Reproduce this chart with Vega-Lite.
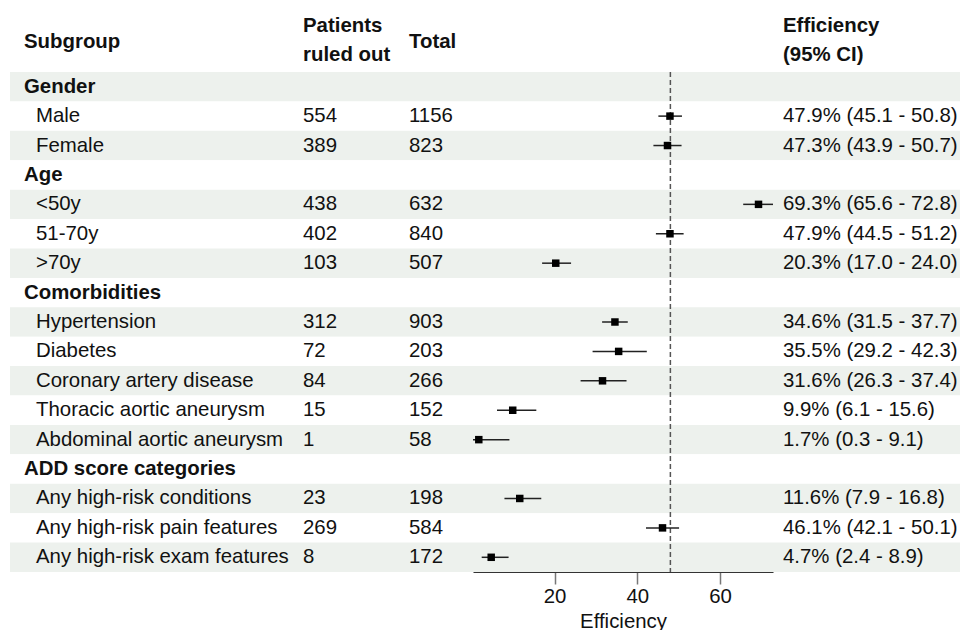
{
  "$schema": "https://vega.github.io/schema/vega-lite/v6.json",
  "padding": {"left": 10, "top": 15, "right": 0, "bottom": 0},
  "autosize": {"type": "pad"},
  "spacing": 0,
  "bounds": "flush",
  "config": {
    "view": {"stroke": null},
    "font": "Liberation Sans",
    "text": {"fontSize": 20.4, "font": "Liberation Sans", "color": "#111111", "align": "left", "baseline": "middle"},
    "title": {"fontSize": 20.4, "font": "Liberation Sans", "fontWeight": "bold", "color": "#111111", "anchor": "start", "lineHeight": 29}
  },
  "data": {
    "values": [
      {"label": "Gender", "header": true},
      {"label": "Male", "header": false, "n": 554, "total": 1156, "est": 47.9, "lo": 45.1, "hi": 50.8},
      {"label": "Female", "header": false, "n": 389, "total": 823, "est": 47.3, "lo": 43.9, "hi": 50.7},
      {"label": "Age", "header": true},
      {"label": "<50y", "header": false, "n": 438, "total": 632, "est": 69.3, "lo": 65.6, "hi": 72.8},
      {"label": "51-70y", "header": false, "n": 402, "total": 840, "est": 47.9, "lo": 44.5, "hi": 51.2},
      {"label": ">70y", "header": false, "n": 103, "total": 507, "est": 20.3, "lo": 17.0, "hi": 24.0},
      {"label": "Comorbidities", "header": true},
      {"label": "Hypertension", "header": false, "n": 312, "total": 903, "est": 34.6, "lo": 31.5, "hi": 37.7},
      {"label": "Diabetes", "header": false, "n": 72, "total": 203, "est": 35.5, "lo": 29.2, "hi": 42.3},
      {"label": "Coronary artery disease", "header": false, "n": 84, "total": 266, "est": 31.6, "lo": 26.3, "hi": 37.4},
      {"label": "Thoracic aortic aneurysm", "header": false, "n": 15, "total": 152, "est": 9.9, "lo": 6.1, "hi": 15.6},
      {"label": "Abdominal aortic aneurysm", "header": false, "n": 1, "total": 58, "est": 1.7, "lo": 0.3, "hi": 9.1},
      {"label": "ADD score categories", "header": true},
      {"label": "Any high-risk conditions", "header": false, "n": 23, "total": 198, "est": 11.6, "lo": 7.9, "hi": 16.8},
      {"label": "Any high-risk pain features", "header": false, "n": 269, "total": 584, "est": 46.1, "lo": 42.1, "hi": 50.1},
      {"label": "Any high-risk exam features", "header": false, "n": 8, "total": 172, "est": 4.7, "lo": 2.4, "hi": 8.9}
    ]
  },
  "transform": [
    {"window": [{"op": "row_number", "as": "rn"}]},
    {"calculate": "datum.header ? '' : format(datum.est, '.1f') + '% (' + format(datum.lo, '.1f') + ' - ' + format(datum.hi, '.1f') + ')'", "as": "ci"}
  ],
  "hconcat": [
    {
      "width": 289, "height": 500,
      "title": {"text": "Subgroup", "dx": 14, "offset": 20},
      "layer": [
        {
          "mark": {"type": "rect"},
          "encoding": {
            "y": {"field": "rn", "type": "ordinal", "axis": null, "scale": {"type": "band", "paddingInner": 0, "paddingOuter": 0}},
            "x": {"value": 0}, "x2": {"value": "width"},
            "fill": {"condition": {"test": "datum.rn % 2 == 1", "value": "#edf1ed"}, "value": "#ffffff"}
          }
        },
        {
          "transform": [{"filter": "datum.header"}],
          "mark": {"type": "text", "dx": 14, "fontWeight": "bold"},
          "encoding": {
            "y": {"field": "rn", "type": "ordinal", "axis": null, "scale": {"type": "band", "paddingInner": 0, "paddingOuter": 0}},
            "x": {"value": 0},
            "text": {"field": "label"}
          }
        },
        {
          "transform": [{"filter": "!datum.header"}],
          "mark": {"type": "text", "dx": 26},
          "encoding": {
            "y": {"field": "rn", "type": "ordinal", "axis": null, "scale": {"type": "band", "paddingInner": 0, "paddingOuter": 0}},
            "x": {"value": 0},
            "text": {"field": "label"}
          }
        }
      ]
    },
    {
      "width": 106, "height": 500,
      "title": {"text": ["Patients", "ruled out"], "dx": 4, "offset": 7},
      "layer": [
        {
          "mark": {"type": "rect"},
          "encoding": {
            "y": {"field": "rn", "type": "ordinal", "axis": null, "scale": {"type": "band", "paddingInner": 0, "paddingOuter": 0}},
            "x": {"value": 0}, "x2": {"value": "width"},
            "fill": {"condition": {"test": "datum.rn % 2 == 1", "value": "#edf1ed"}, "value": "#ffffff"}
          }
        },
        {
          "transform": [{"filter": "!datum.header"}],
          "mark": {"type": "text", "dx": 4},
          "encoding": {
            "y": {"field": "rn", "type": "ordinal", "axis": null, "scale": {"type": "band", "paddingInner": 0, "paddingOuter": 0}},
            "x": {"value": 0},
            "text": {"field": "n", "type": "quantitative", "format": "d"}
          }
        }
      ]
    },
    {
      "width": 68, "height": 500,
      "title": {"text": "Total", "dx": 4, "offset": 20},
      "layer": [
        {
          "mark": {"type": "rect"},
          "encoding": {
            "y": {"field": "rn", "type": "ordinal", "axis": null, "scale": {"type": "band", "paddingInner": 0, "paddingOuter": 0}},
            "x": {"value": 0}, "x2": {"value": "width"},
            "fill": {"condition": {"test": "datum.rn % 2 == 1", "value": "#edf1ed"}, "value": "#ffffff"}
          }
        },
        {
          "transform": [{"filter": "!datum.header"}],
          "mark": {"type": "text", "dx": 4},
          "encoding": {
            "y": {"field": "rn", "type": "ordinal", "axis": null, "scale": {"type": "band", "paddingInner": 0, "paddingOuter": 0}},
            "x": {"value": 0},
            "text": {"field": "total", "type": "quantitative", "format": "d"}
          }
        }
      ]
    },
    {
      "width": 300, "height": 500,
      "layer": [
        {
          "mark": {"type": "rect"},
          "encoding": {
            "y": {"field": "rn", "type": "ordinal", "axis": null, "scale": {"type": "band", "paddingInner": 0, "paddingOuter": 0}},
            "x": {"value": 0}, "x2": {"value": "width"},
            "fill": {"condition": {"test": "datum.rn % 2 == 1", "value": "#edf1ed"}, "value": "#ffffff"}
          }
        },
        {
          "transform": [{"filter": "datum.rn == 1"}],
          "mark": {"type": "rule", "color": "#555555", "strokeWidth": 1.5, "strokeDash": [5, 3]},
          "encoding": {
            "x": {"datum": 48, "type": "quantitative", "scale": {"domain": [0.3, 72.8], "nice": false, "zero": false}}
          }
        },
        {
          "transform": [{"filter": "!datum.header"}],
          "mark": {"type": "rule", "color": "#222222", "strokeWidth": 1.5},
          "encoding": {
            "y": {"field": "rn", "type": "ordinal", "axis": null, "scale": {"type": "band", "paddingInner": 0, "paddingOuter": 0}},
            "x": {"field": "lo", "type": "quantitative"},
            "x2": {"field": "hi"}
          }
        },
        {
          "transform": [{"filter": "!datum.header"}],
          "mark": {"type": "point", "shape": "square", "filled": true, "size": 56, "color": "#000000", "opacity": 1},
          "encoding": {
            "y": {"field": "rn", "type": "ordinal", "axis": null, "scale": {"type": "band", "paddingInner": 0, "paddingOuter": 0}},
            "x": {
              "field": "est", "type": "quantitative",
              "scale": {"domain": [0.3, 72.8], "nice": false, "zero": false},
              "axis": {
                "title": "Efficiency", "values": [20, 40, 60], "grid": false,
                "tickSize": 12, "tickColor": "#777777", "tickWidth": 1.5,
                "domainColor": "#333333", "domainWidth": 1.2,
                "labelFontSize": 20.4, "titleFontSize": 20.4, "titleFontWeight": "normal",
                "labelColor": "#111111", "titleColor": "#111111",
                "labelFont": "Liberation Sans", "titleFont": "Liberation Sans",
                "labelPadding": 2, "titlePadding": 5
              }
            }
          }
        }
      ]
    },
    {
      "width": 187, "height": 500,
      "title": {"text": ["Efficiency", "(95% CI)"], "dx": 10, "offset": 7},
      "layer": [
        {
          "mark": {"type": "rect"},
          "encoding": {
            "y": {"field": "rn", "type": "ordinal", "axis": null, "scale": {"type": "band", "paddingInner": 0, "paddingOuter": 0}},
            "x": {"value": 0}, "x2": {"value": "width"},
            "fill": {"condition": {"test": "datum.rn % 2 == 1", "value": "#edf1ed"}, "value": "#ffffff"}
          }
        },
        {
          "transform": [{"filter": "!datum.header"}],
          "mark": {"type": "text", "dx": 10},
          "encoding": {
            "y": {"field": "rn", "type": "ordinal", "axis": null, "scale": {"type": "band", "paddingInner": 0, "paddingOuter": 0}},
            "x": {"value": 0},
            "text": {"field": "ci"}
          }
        }
      ]
    }
  ]
}
